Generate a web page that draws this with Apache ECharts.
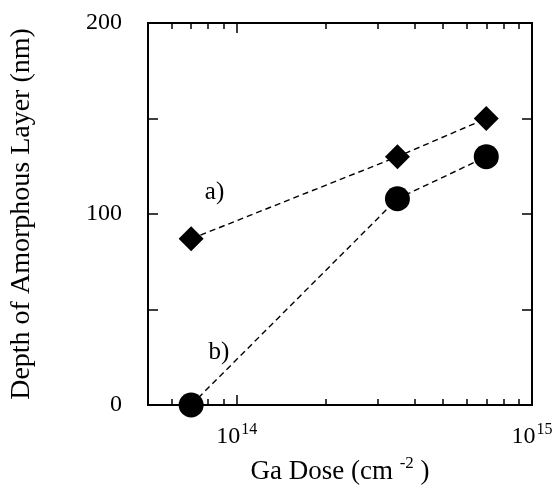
<!DOCTYPE html>
<html>
<head>
<meta charset="utf-8">
<script src="https://cdn.jsdelivr.net/npm/echarts@6/dist/echarts.min.js"></script>
<style>
  html, body { margin: 0; padding: 0; background: #fff; }
  #chart { width: 556px; height: 493px; }
</style>
</head>
<body>
<div id="chart"></div>
<script>
// Ga dose (cm^-2) vs depth of amorphous layer (nm)
var doses = [7e13, 3.5e14, 7e14];
var depthA = [87, 130, 150];   // a) diamonds
var depthB = [0, 108, 130];    // b) circles
var majorTicks = [1e14, 1e15];
var minorTicks = [6e13, 7e13, 8e13, 9e13, 2e14, 3e14, 4e14, 5e14, 6e14, 7e14, 8e14, 9e14];
// label at the decade ends; the top one nudged just inside the extent so it is kept
var tickLabels = [1e14, 0.99999e15];
var yLabels = [0, 100, 200];

var font = 'Liberation Serif';
var chart = echarts.init(document.getElementById('chart'));

function pairs(xs, ys) {
  return xs.map(function (x, i) { return [x, ys[i]]; });
}

function logAxis(pos, ticks, len, showLabel) {
  return {
    type: 'log', logBase: 10, min: 5e13, max: 1e15, position: pos,
    axisLine: { show: true, lineStyle: { color: '#000', width: 2 } },
    axisTick: { show: true, inside: true, length: len, customValues: ticks,
      lineStyle: { color: '#000', width: 1.5 } },
    minorTick: { show: false },
    splitLine: { show: false },
    axisLabel: showLabel ? {
      show: true, margin: 17, customValues: tickLabels,
      showMinLabel: true, showMaxLabel: true, hideOverlap: false,
      formatter: function (v) {
        var e = Math.round(Math.log(v) / Math.LN10);
        return '{b|10}{s|' + e + '}';
      },
      rich: {
        b: { fontFamily: font, fontSize: 24, color: '#000' },
        s: { fontFamily: font, fontSize: 16, color: '#000', padding: [0, 0, 14, 1] }
      }
    } : { show: false }
  };
}

var xAxes = [
  logAxis('bottom', majorTicks, 10, true),
  logAxis('bottom', minorTicks, 6, false),
  logAxis('top', majorTicks, 10, false),
  logAxis('top', minorTicks, 6, false)
];
xAxes[0].name = '{t|Ga Dose (cm }{s|-2}{t| )}';
xAxes[0].nameLocation = 'middle';
xAxes[0].nameGap = 50;
xAxes[0].nameTextStyle = {
  rich: {
    t: { fontFamily: font, fontSize: 27, color: '#000' },
    s: { fontFamily: font, fontSize: 17, color: '#000', padding: [0, 0, 16, 0] }
  }
};

function valAxis(pos, showLabel) {
  return {
    type: 'value', min: 0, max: 200, interval: 50, position: pos,
    axisLine: { show: true, lineStyle: { color: '#000', width: 2 } },
    axisTick: { show: true, inside: true, length: 10, lineStyle: { color: '#000', width: 1.5 } },
    splitLine: { show: false },
    axisLabel: {
      show: showLabel, margin: 26, fontFamily: font, fontSize: 24, color: '#000',
      formatter: function (v) { return yLabels.indexOf(v) >= 0 ? String(v) : ''; }
    }
  };
}

var yAxes = [valAxis('left', true), valAxis('right', false)];
yAxes[0].name = 'Depth of Amorphous Layer (nm)';
yAxes[0].nameLocation = 'middle';
yAxes[0].nameGap = 112;
yAxes[0].nameTextStyle = { fontFamily: font, fontSize: 28, color: '#000' };

var lineStyle = { color: '#000', width: 1.4, type: [6, 4] };

chart.setOption({
  backgroundColor: '#fff',
  animation: false,
  grid: { left: 148, right: 24, top: 23, bottom: 88, containLabel: false },
  xAxis: xAxes,
  yAxis: yAxes,
  series: [
    {
      name: 'a', type: 'line', xAxisIndex: 0, yAxisIndex: 0,
      data: pairs(doses, depthA), clip: false,
      symbol: 'diamond', symbolSize: 25,
      itemStyle: { color: '#000' }, lineStyle: lineStyle,
      markPoint: {
        symbol: 'circle', symbolSize: 0,
        data: [{ coord: [8.4e13, 111.5], label: { show: true, formatter: 'a)',
          fontFamily: font, fontSize: 25, color: '#000' } }]
      }
    },
    {
      name: 'b', type: 'line', xAxisIndex: 0, yAxisIndex: 0,
      data: pairs(doses, depthB), clip: false,
      symbol: 'circle', symbolSize: 25,
      itemStyle: { color: '#000' }, lineStyle: lineStyle,
      markPoint: {
        symbol: 'circle', symbolSize: 0,
        data: [{ coord: [8.7e13, 27.7], label: { show: true, formatter: 'b)',
          fontFamily: font, fontSize: 25, color: '#000' } }]
      }
    }
  ]
});
</script>
</body>
</html>
